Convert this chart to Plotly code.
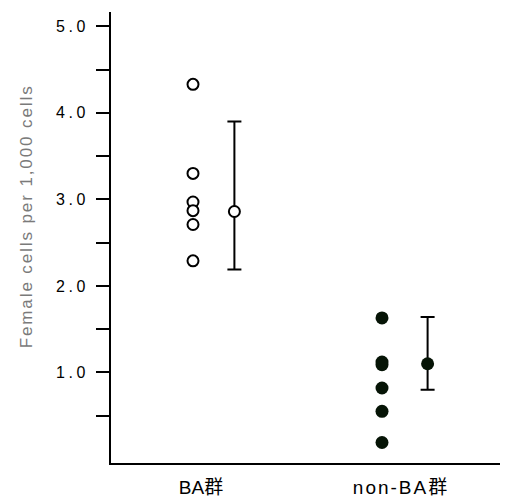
import plotly.graph_objects as go

categories = ["BA群", "non-BA群"]
ba_values = [4.33, 3.30, 2.97, 2.87, 2.71, 2.29]
nonba_values = [1.63, 1.12, 1.09, 0.82, 0.55, 0.19]
summary_center = [2.86, 1.10]
summary_upper = [3.90, 1.64]
summary_lower = [2.19, 0.80]
y_tickvals = [0.5, 1.0, 1.5, 2.0, 2.5, 3.0, 3.5, 4.0, 4.5, 5.0]
y_ticklabels = ["", "1.0", "", "2.0", "", "3.0", "", "4.0", "", "5.0"]

cat_pos = [1, 2]
dot_offset = [-0.04, -0.095]
mean_offset = [0.167, 0.133]

FONT = "Liberation Sans, Arial, Noto Sans CJK JP"


def spaced(t, px):
    return f'<span style="letter-spacing:{px}px">{t}</span>' if t else ""


fig = go.Figure()

fig.add_trace(go.Scatter(
    x=[cat_pos[0] + dot_offset[0]] * len(ba_values), y=ba_values,
    mode="markers",
    marker=dict(symbol="circle", size=11, color="white",
                line=dict(color="black", width=2)),
    showlegend=False, hoverinfo="y"))

fig.add_trace(go.Scatter(
    x=[cat_pos[1] + dot_offset[1]] * len(nonba_values), y=nonba_values,
    mode="markers",
    marker=dict(symbol="circle", size=13, color="#061406",
                line=dict(color="#061406", width=0)),
    showlegend=False, hoverinfo="y"))

styles = [dict(size=11, color="white", line=dict(color="black", width=2)),
          dict(size=13, color="#061406", line=dict(color="#061406", width=0))]
for i in range(2):
    fig.add_trace(go.Scatter(
        x=[cat_pos[i] + mean_offset[i]], y=[summary_center[i]],
        mode="markers",
        marker=dict(symbol="circle", **styles[i]),
        error_y=dict(type="data", symmetric=False,
                     array=[summary_upper[i] - summary_center[i]],
                     arrayminus=[summary_center[i] - summary_lower[i]],
                     color="black", thickness=2, width=7),
        showlegend=False, hoverinfo="y"))

x_ticktext = [categories[0], spaced(categories[1], 2)]

fig.update_layout(
    width=500, height=490,
    margin=dict(l=103, r=0, t=4, b=33),
    plot_bgcolor="white", paper_bgcolor="white",
    font=dict(family=FONT, color="black"),
    xaxis=dict(range=[0.55, 2.535], showgrid=False, zeroline=False,
               showline=True, linecolor="black", linewidth=2,
               tickvals=cat_pos, ticktext=x_ticktext, ticks="",
               ticklabelstandoff=6,
               tickfont=dict(size=19, family=FONT)),
    yaxis=dict(range=[-0.047, 5.166], showgrid=False, zeroline=False,
               showline=True, linecolor="black", linewidth=2,
               tickvals=y_tickvals,
               ticktext=[spaced(t, 3.5) for t in y_ticklabels],
               ticks="outside", ticklen=13, tickwidth=2, tickcolor="black",
               ticklabelstandoff=4,
               tickfont=dict(size=16, family=FONT)),
    annotations=[dict(text=spaced("Female cells per 1,000 cells", 1.9),
                      textangle=-90,
                      xref="paper", yref="paper", x=-0.214, y=0.547,
                      xanchor="center", yanchor="middle", showarrow=False,
                      font=dict(size=17, color="#7a7a7a", family=FONT))],
)

fig.write_html("out.html")
